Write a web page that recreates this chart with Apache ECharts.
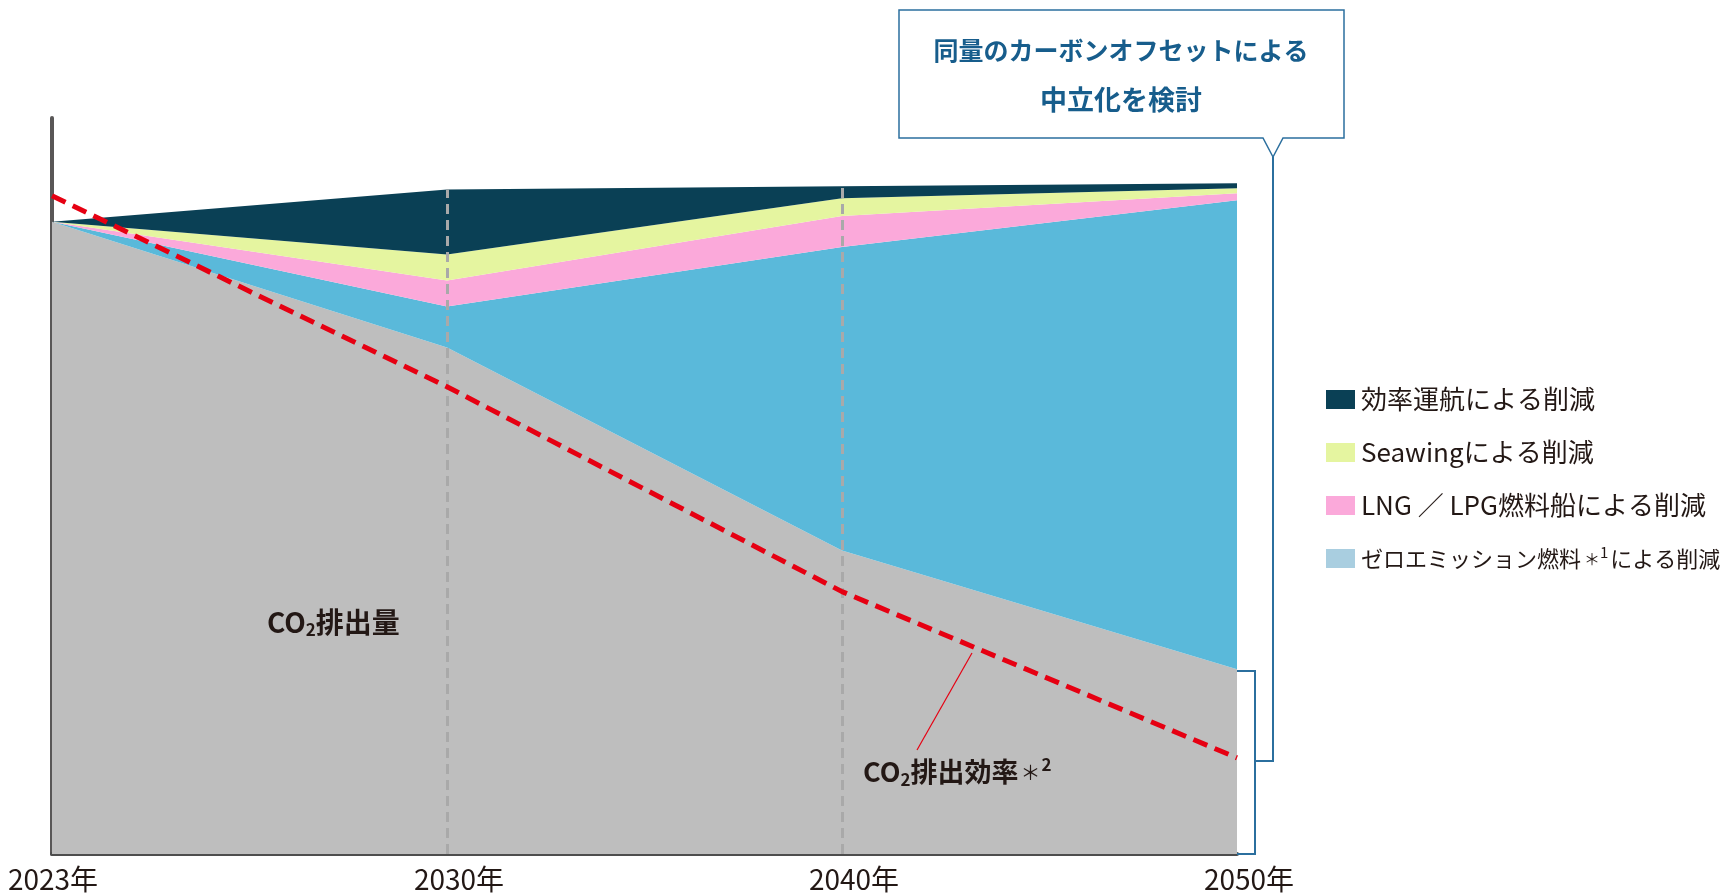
<!DOCTYPE html>
<html>
<head>
<meta charset="utf-8">
<script src="https://cdn.jsdelivr.net/npm/echarts@6/dist/echarts.min.js"></script>
<style>
html,body{margin:0;padding:0;background:#fff;}
#chart{width:1728px;height:893px;}
</style>
</head>
<body>
<div id="chart"></div>
<script>
const categories = ['2023年', '2030年', '2040年', '2050年'];
// stacked layers, bottom to top (index = 2023, 2030, 2040, 2050; 2023 emissions = 100)
const emissions      = [100, 80.1, 48.0, 29.2];   // CO2排出量
const zeroEmission   = [0, 6.5, 48.0, 74.2];      // ゼロエミッション燃料
const lngLpg         = [0, 4.1, 4.9, 1.1];        // LNG／LPG燃料船
const seawing        = [0, 4.1, 2.8, 0.8];        // Seawing
const efficientOps   = [0, 10.3, 1.9, 0.8];       // 効率運航
const intensity      = [104.1, 73.9, 41.5, 15.2]; // CO2排出効率
const seriesNames = ['CO₂排出量', 'ゼロエミッション燃料＊¹による削減', 'LNG ／ LPG燃料船による削減', 'Seawingによる削減', '効率運航による削減', 'CO₂排出効率'];
const guideYears = ['2030年', '2040年'];

const FONT = '"Noto Sans CJK JP", "Noto Sans", sans-serif';
const TXT = '#231815';
const BLUE_LINE = '#2b6f9e';

const totals = categories.map((c, i) => emissions[i] + zeroEmission[i] + lngLpg[i] + seawing[i] + efficientOps[i]);

const chart = echarts.init(document.getElementById('chart'));

function areaSeries(name, data, color) {
  return {
    name: name, type: 'line', stack: 'total', data: data,
    symbol: 'none', smooth: false, z: 2,
    lineStyle: { width: 0, color: color },
    itemStyle: { color: color },
    areaStyle: { color: color, opacity: 1 },
    emphasis: { disabled: true }, silent: true
  };
}

const darkSeries = areaSeries(seriesNames[4], efficientOps, '#0a4055');
darkSeries.markLine = {
  silent: true, symbol: ['none', 'none'], z: 5,
  label: { show: false },
  lineStyle: { color: '#a9a9a9', width: 3, type: [10, 6] },
  data: guideYears.map(y => [
    { coord: [y, 0] },
    { coord: [y, totals[categories.indexOf(y)]] }
  ])
};

const option = {
  animation: false,
  backgroundColor: '#ffffff',
  grid: { left: 52, right: 491, top: 118, bottom: 38, containLabel: false },
  xAxis: {
    type: 'category', data: categories, boundaryGap: false,
    axisLine: { show: true, lineStyle: { color: '#4d4d4d', width: 4 } },
    axisTick: { show: false },
    splitLine: { show: false },
    axisLabel: {
      color: TXT, fontSize: 28, fontFamily: FONT, margin: 11,
      formatter: (v, i) => (i === 0 ? '{f|' + v + '}' : '{o|' + v + '}'),
      rich: {
        f: { fontSize: 28, color: TXT, fontFamily: FONT, padding: [0, 0, 0, 2] },
        o: { fontSize: 28, color: TXT, fontFamily: FONT, padding: [0, 0, 0, 24] }
      }
    }
  },
  yAxis: {
    type: 'value', min: 0, max: 116.4,
    axisLine: { show: true, lineStyle: { color: '#595757', width: 4 } },
    axisTick: { show: false }, axisLabel: { show: false }, splitLine: { show: false }
  },
  legend: {
    orient: 'vertical', left: 1321, top: 381,
    itemWidth: 29, itemHeight: 19, itemGap: 26, icon: 'rect',
    selectedMode: false,
    formatter: function (name) {
      if (name === seriesNames[1]) {
        return '{z|ゼロエミッション燃料}{a|＊}{p|1}{z|による削減}';
      }
      return '{t|' + name + '}';
    },
    textStyle: {
      fontSize: 26, lineHeight: 27, color: TXT, fontFamily: FONT, padding: [0, 0, 0, 1],
      rich: {
        t: { fontSize: 26, lineHeight: 27, color: TXT, fontFamily: FONT },
        z: { fontSize: 22, lineHeight: 27, color: TXT, fontFamily: FONT, verticalAlign: 'middle' },
        a: { fontSize: 16, lineHeight: 27, color: TXT, fontFamily: FONT, verticalAlign: 'middle', padding: [0, 0, 0, 3] },
        p: { fontSize: 15, lineHeight: 27, color: TXT, fontFamily: FONT, verticalAlign: 'top', padding: [0, 2, 0, 0] }
      }
    },
    data: [
      { name: seriesNames[4] },
      { name: seriesNames[3] },
      { name: seriesNames[2] },
      { name: seriesNames[1], itemStyle: { color: '#a9cee0' } }
    ]
  },
  series: [
    areaSeries(seriesNames[0], emissions, '#bebebe'),
    areaSeries(seriesNames[1], zeroEmission, '#5ab9da'),
    areaSeries(seriesNames[2], lngLpg, '#fba9da'),
    areaSeries(seriesNames[3], seawing, '#e5f5a0'),
    darkSeries,
    {
      name: seriesNames[5], type: 'line', data: intensity, symbol: 'none', z: 6, silent: true,
      lineStyle: { color: '#e60012', width: 5, type: [15, 8] }
    }
  ],
  graphic: [
    // CO2排出量 label
    {
      type: 'text', x: 267, y: 622, z: 10,
      style: {
        text: '{m|CO}{s|2}{m|排出量}', verticalAlign: 'middle',
        rich: {
          m: { fontSize: 28, fontWeight: 'bold', fill: TXT, fontFamily: FONT, lineHeight: 32, verticalAlign: 'middle' },
          s: { fontSize: 17, fontWeight: 'bold', fill: TXT, fontFamily: FONT, lineHeight: 32, verticalAlign: 'bottom' }
        }
      }
    },
    // CO2排出効率 label + leader line
    {
      type: 'line', z: 10,
      shape: { x1: 917, y1: 750, x2: 972, y2: 653 },
      style: { stroke: '#e60012', lineWidth: 1.2 }
    },
    {
      type: 'text', x: 863, y: 772, z: 10,
      style: {
        text: '{m|CO}{s|2}{m|排出効率}{a|＊}{p|2}', verticalAlign: 'middle',
        rich: {
          m: { fontSize: 27, fontWeight: 'bold', fill: TXT, fontFamily: FONT, lineHeight: 32, verticalAlign: 'middle' },
          s: { fontSize: 17, fontWeight: 'bold', fill: TXT, fontFamily: FONT, lineHeight: 32, verticalAlign: 'bottom' },
          a: { fontSize: 20, fill: TXT, fontFamily: FONT, lineHeight: 32, verticalAlign: 'middle', padding: [0, 1, 0, 2] },
          p: { fontSize: 17, fontWeight: 'bold', fill: TXT, fontFamily: FONT, lineHeight: 32, verticalAlign: 'top' }
        }
      }
    },
    // callout box
    {
      type: 'polygon', z: 10,
      shape: { points: [[899, 10], [1344, 10], [1344, 138], [1283, 138], [1273, 157], [1263, 138], [899, 138]] },
      style: { fill: '#ffffff', stroke: BLUE_LINE, lineWidth: 1.5 }
    },
    {
      type: 'text', x: 1121, y: 50, z: 11,
      style: { text: '同量のカーボンオフセットによる', align: 'center', verticalAlign: 'middle', fontSize: 25, fontWeight: 'bold', fill: '#175d8c', fontFamily: FONT }
    },
    {
      type: 'text', x: 1121, y: 100, z: 11,
      style: { text: '中立化を検討', align: 'center', verticalAlign: 'middle', fontSize: 27, fontWeight: 'bold', fill: '#175d8c', fontFamily: FONT }
    },
    // bracket
    {
      type: 'polyline', z: 10,
      shape: { points: [[1237, 671], [1255, 671], [1255, 854], [1237, 854]] },
      style: { stroke: BLUE_LINE, lineWidth: 2, fill: null }
    },
    {
      type: 'polyline', z: 10,
      shape: { points: [[1255, 761], [1273, 761], [1273, 157]] },
      style: { stroke: BLUE_LINE, lineWidth: 2, fill: null }
    }
  ]
};
chart.setOption(option);
</script>
</body>
</html>
